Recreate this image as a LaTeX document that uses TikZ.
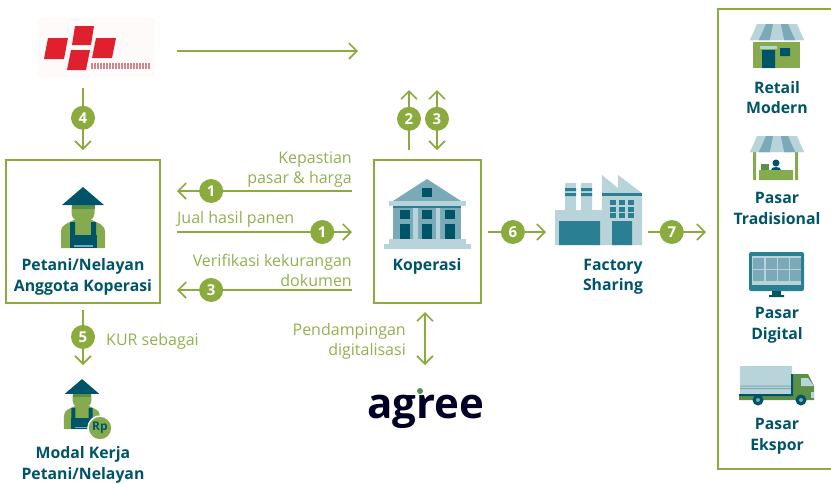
\documentclass[tikz,border=0pt]{standalone}
\usepackage{fontspec}
\setmainfont{Open Sans}
\usetikzlibrary{arrows.meta}
\definecolor{flowgreen}{HTML}{8CAB3F}
\definecolor{labelgreen}{HTML}{93B04F}
\definecolor{bodygreen}{HTML}{85AB4E}
\definecolor{darkgreen}{HTML}{5C8F46}
\definecolor{deepteal}{HTML}{005468}
\definecolor{midteal}{HTML}{2B7F92}
\definecolor{softteal}{HTML}{7AA9B8}
\definecolor{paleteal}{HTML}{B9D3DA}
\definecolor{logored}{HTML}{E0202F}
\tikzset{
  barb/.tip = {Straight Barb[length=8pt,width=16pt,line width=1.6pt]},
  flow/.style = {draw=flowgreen, line width=1.6pt, -barb},
  twoway/.style = {flow, barb-barb},
  numdot/.style = {circle, fill=flowgreen, text=white, inner sep=0pt,
    minimum size=24pt, font=\fontsize{15}{15}\selectfont\bfseries},
  framebox/.style = {draw=flowgreen, line width=2pt, inner sep=0pt},
  iconlabel/.style = {text=deepteal, align=center, inner sep=0pt,
    font=\fontsize{15.8}{20.5}\selectfont\bfseries},
  flowlabel/.style = {text=labelgreen, inner sep=0pt,
    font=\fontsize{16}{20}\selectfont},
  farmer/.pic = {
    \fill[bodygreen] (-22,30) -- (-22,14) .. controls (-22,6) and (-14,5) .. (-9,2) -- (9,2)
      .. controls (14,5) and (22,6) .. (22,14) -- (22,30) -- cycle;
    \fill[bodygreen] (-11.5,-12) -- (11.5,-12) -- (11.5,-5) .. controls (11.5,0) and (8,1) .. (7,3)
      -- (-7,3) .. controls (-8,1) and (-11.5,0) .. (-11.5,-5) -- cycle;
    \fill[darkgreen] (-11.5,-13) rectangle (11.5,-9);
    \fill[deepteal] (-13,4) rectangle (-8,18) (8,4) rectangle (13,18);
    \fill[deepteal] (-13.5,17) rectangle (13.5,30);
    \fill[softteal] (-9,27) rectangle (10,29);
    \fill[deepteal] (0,-31) -- (21,-13) -- (-21,-13) -- cycle;
  },
  awning/.pic = {
    \fill[paleteal] (-20,0) -- (20,0) -- (27,16) -- (-27,16) -- cycle;
    \fill[softteal] (-11,0) -- (-4,0) -- (-7,16) -- (-18,16) -- cycle;
    \fill[softteal] (4,0) -- (11,0) -- (18,16) -- (7,16) -- cycle;
    \fill[paleteal] (-27,16) arc[start angle=180,end angle=360,radius=4.5]
      (18,16) arc[start angle=180,end angle=360,radius=4.5];
    \fill[softteal] (-18,16) arc[start angle=180,end angle=360,radius=5.5]
      (7,16) arc[start angle=180,end angle=360,radius=5.5];
    \fill[paleteal] (-7,16) arc[start angle=180,end angle=360,radius=7];
  }
}
\begin{document}
\begin{tikzpicture}[x=1pt,y=-1pt]
  \useasboundingbox (0,0) rectangle (831,483);

  % boxes
  \node[framebox, minimum width=154pt, minimum height=143pt] (petani) at (83,231.5) {};
  \node[framebox, minimum width=107pt, minimum height=143pt] (koperasi) at (427.5,231.5) {};
  \draw[draw=flowgreen, line width=2pt] (831,9) -- (718,9) -- (718,469) -- (831,469);

  % logos
  \node[fill=red!2, minimum width=117pt, minimum height=59pt, inner sep=0pt] (logotop) at (96.5,47.5) {};
  \fill[logored] (48,38) -- (68,38) -- (64,59) -- (44,59) -- cycle;
  \fill[logored] (75,26) -- (94,26) -- (91,45) -- (72,45) -- cycle;
  \fill[logored] (96,38) -- (116,38) -- (112,58) -- (92,58) -- cycle;
  \fill[logored] (71,50) -- (90,50) -- (86,70) -- (67,70) -- cycle;
  \foreach \wx in {91,94,...,148}
    \fill[logored!70!black, opacity=.5] (\wx,63) rectangle ++(2,6);
  \node[text=black!85!blue, inner sep=0pt, font=\fontsize{42}{42}\selectfont\bfseries] (agree) at (426,412) {agree};
  \fill[darkgreen] (420,391) circle (3pt);

  % connector ends
  \foreach \name/\pos in {a/{177,51}, b/{358,51}, c/{83,88}, d/{83,150},
      e/{352,191}, f/{177,191}, g/{177,232}, h/{352,232}, i/{352,290}, j/{177,290},
      k/{409,150}, l/{409,90}, m/{437,90}, n/{437,150}, o/{488,232}, p/{546,232},
      q/{648,232}, r/{706,232}, s/{83,310}, t/{83,365}, u/{425,312}, v/{425,365}}
    \coordinate (\name) at (\pos);

  \draw[flow] (a) -- (b);
  \draw[twoway] (u) -- (v);
  \foreach \from/\to/\num/\where in {c/d/4/.48, e/f/1/.805, g/h/1/.83, i/j/3/.805,
      k/l/2/.52, o/p/6/.43, q/r/7/.41, s/t/5/.49}
    \draw[flow] (\from) -- node[numdot, pos=\where, name=dot\from] {\num} (\to);
  \draw[twoway] (m) -- node[numdot, pos=.48, name=dotm] {3} (n);

  % flow texts
  \node[flowlabel, align=right, anchor=east] (pasar) at (352,170) {Kepastian\\pasar \& harga};
  \node[flowlabel, anchor=west] (jual) at (177,219) {Jual hasil panen};
  \node[flowlabel, align=right, anchor=east] (verif) at (352,270) {Verifikasi kekurangan\\dokumen};
  \node[flowlabel, anchor=west] (kur) at (106,341) {KUR sebagai};
  \node[flowlabel, align=right, anchor=east] (damping) at (406,341) {Pendampingan\\digitalisasi};

  % people
  \pic at (83,218) {farmer};
  \pic[scale=.82] at (82,404.5) {farmer};
  \node[circle, fill=bodygreen, draw=white, line width=1.5pt, minimum size=24pt, inner sep=0pt,
    text=deepteal, font=\fontsize{12}{12}\selectfont\bfseries] (rupiah) at (100,428) {Rp};

  % bank
  \fill[softteal] (427,179) -- (461,201) -- (393,201) -- cycle;
  \fill[deepteal] (422,188) rectangle (432,197);
  \fill[softteal] (393,206) rectangle (461,240);
  \fill[paleteal] (389,201) rectangle (466,206);
  \fill[midteal] (393,206) rectangle (461,208);
  \fill[paleteal] (413,208) rectangle (418,239) (436,208) rectangle (440,239);
  \foreach \wx in {400,422,445} {
    \fill[deepteal] (\wx,210) rectangle ++(10,9);
    \fill[deepteal] (\wx,224) rectangle ++(10,16);
  }
  \fill[paleteal] (389,239) rectangle (466,244) (384,244) rectangle (471,249);

  % factory
  \fill[paleteal] (565,183) rectangle (576,212) (581,183) rectangle (592,212);
  \fill[midteal] (565,188) rectangle (576,191) (565,193) rectangle (576,196)
    (581,188) rectangle (592,191) (581,193) rectangle (592,196);
  \fill[paleteal] (555,210) rectangle (603,245) (602,193) rectangle (642,245);
  \fill[paleteal] (602,175) -- (618,188) -- (618,175) -- (642,193) -- (602,193) -- cycle;
  \fill[midteal] (602,193) rectangle (642,196);
  \foreach \wx in {610,619,628}
    \foreach \wy in {200,206.5,213}
      \fill[midteal] (\wx,\wy) rectangle ++(6,5);
  \fill[midteal] (559,221) rectangle (600,245) (612,221) rectangle (632,245);

  % shop
  \fill[bodygreen] (753,42) rectangle (800,68);
  \pic at (777,24) {awning};
  \fill[deepteal] (762,50) rectangle (775,68) (780,48) rectangle (790,56);
  \fill[paleteal] (760,46) rectangle (777,49);

  % stall
  \fill[bodygreen] (753,150) rectangle (756,180) (795,150) rectangle (798,180) (759,170) rectangle (793,180);
  \fill[darkgreen] (761,164) rectangle (769,170);
  \fill[deepteal] (776,163) circle (3.5pt);
  \fill[deepteal] (771,170) .. controls (771,166) and (781,166) .. (781,170) -- cycle;
  \pic at (777,136) {awning};

  % screen
  \fill[midteal, rounded corners=2pt] (749,252) rectangle (804,291);
  \fill[paleteal] (752,256) rectangle (801,285);
  \foreach \wx in {753,766,778,790}
    \foreach \wy in {258,270}
      \fill[softteal] (\wx,\wy) rectangle ++(10.5,11);
  \fill[deepteal] (772,291) rectangle (781,296) (769,295) rectangle (784,297);

  % truck
  \fill[paleteal] (740,366) rectangle (792,394);
  \fill[softteal] (740,385.5) rectangle (792,386.5) (740,388) rectangle (792,389);
  \fill[darkgreen] (793,374) -- (808,374) -- (814,386) -- (814,400) -- (739,400) -- (739,396) -- (793,396) -- cycle;
  \fill[deepteal] (791,374) rectangle (793,396) (739,394) rectangle (793,396);
  \fill[paleteal] (801,378) -- (808,378) -- (814,386) -- (801,386) -- cycle;
  \fill[paleteal] (811,392) rectangle (814,398);
  \foreach \wx in {758,801} {
    \fill[deepteal] (\wx,400) circle (5.5pt);
    \fill[softteal] (\wx,400) circle (2pt);
  }

  % icon texts
  \node[iconlabel] (lblpetani) at (83,277) {Petani/Nelayan\\Anggota Koperasi};
  \node[iconlabel] (lblkoperasi) at (427,266.5) {Koperasi};
  \node[iconlabel] (lblfactory) at (613,277) {Factory\\Sharing};
  \node[iconlabel] (lblretail) at (777,97.5) {Retail\\Modern};
  \node[iconlabel] (lbltradisi) at (777,208.5) {Pasar\\Tradisional};
  \node[iconlabel] (lbldigital) at (777,325.5) {Pasar\\Digital};
  \node[iconlabel] (lblekspor) at (777,436.5) {Pasar\\Ekspor};
  \node[iconlabel] (lblmodal) at (83,465) {Modal Kerja\\Petani/Nelayan};
\end{tikzpicture}
\end{document}
